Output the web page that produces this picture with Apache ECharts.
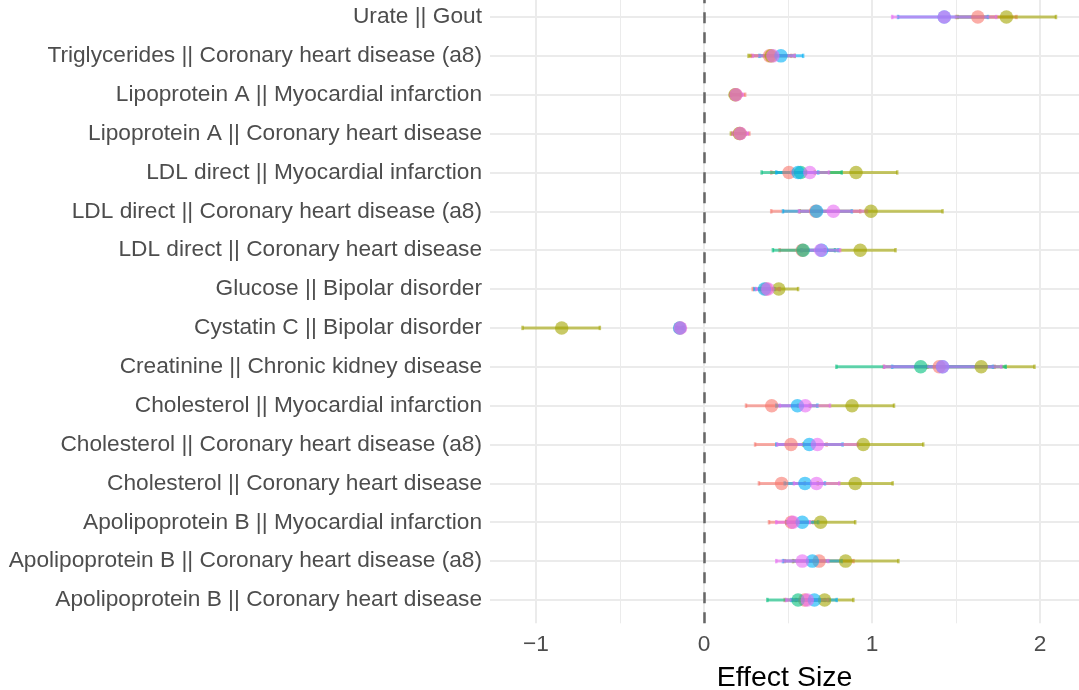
<!DOCTYPE html>
<html>
<head>
<meta charset="utf-8">
<script src="https://cdn.jsdelivr.net/npm/echarts@6/dist/echarts.min.js"></script>
<style>
html,body{margin:0;padding:0;background:#fff;}
#chart{width:1079px;height:690px;}
</style>
</head>
<body>
<div id="chart"></div>
<script>
// Categories, bottom (index 0) to top
var categories = [
  "Apolipoprotein B || Coronary heart disease",
  "Apolipoprotein B || Coronary heart disease (a8)",
  "Apolipoprotein B || Myocardial infarction",
  "Cholesterol || Coronary heart disease",
  "Cholesterol || Coronary heart disease (a8)",
  "Cholesterol || Myocardial infarction",
  "Creatinine || Chronic kidney disease",
  "Cystatin C || Bipolar disorder",
  "Glucose || Bipolar disorder",
  "LDL direct || Coronary heart disease",
  "LDL direct || Coronary heart disease (a8)",
  "LDL direct || Myocardial infarction",
  "Lipoprotein A || Coronary heart disease",
  "Lipoprotein A || Myocardial infarction",
  "Triglycerides || Coronary heart disease (a8)",
  "Urate || Gout"
];
var xTickValues = [-1, 0, 1, 2];
var xMinorValues = [-0.5, 0.5, 1.5];
var seriesNames = ["Series 1", "Series 2", "Series 3", "Series 4", "Series 5"];
var seriesColors = ["#F8766D", "#A3A500", "#00BF7D", "#00B0F6", "#E76BF3"];

// Series 1 (red)
var s1Est = [0.60, 0.685, 0.52, 0.462, 0.518, 0.403, 1.40, -0.143, 0.37, 0.585, 0.665, 0.506, 0.215, 0.19, 0.39, 1.63];
var s1Lo  = [0.48, 0.48, 0.387, 0.327, 0.304, 0.25, 1.07, -0.16, 0.29, 0.45, 0.40, 0.40, 0.17, 0.16, 0.28, 1.50];
var s1Hi  = [0.72, 0.89, 0.65, 0.60, 0.73, 0.56, 1.73, -0.125, 0.45, 0.72, 0.93, 0.61, 0.27, 0.245, 0.52, 1.86];
// Series 2 (olive)
var s2Est = [0.718, 0.843, 0.694, 0.90, 0.948, 0.881, 1.65, -0.847, 0.445, 0.93, 0.994, 0.905, 0.21, 0.185, 0.40, 1.80];
var s2Lo  = [0.547, 0.53, 0.49, 0.677, 0.59, 0.63, 1.33, -1.08, 0.33, 0.72, 0.57, 0.66, 0.16, 0.155, 0.265, 1.51];
var s2Hi  = [0.889, 1.157, 0.90, 1.123, 1.305, 1.131, 1.967, -0.62, 0.56, 1.14, 1.42, 1.15, 0.25, 0.22, 0.54, 2.095];
// Series 3 (green)
var s3Est = [0.56, null, null, null, null, null, 1.29, null, null, 0.59, null, 0.575, null, null, null, null];
var s3Lo  = [0.377, null, null, null, null, null, 0.788, null, null, 0.41, null, 0.343, null, null, null, null];
var s3Hi  = [0.742, null, null, null, null, null, 1.796, null, null, 0.78, null, 0.82, null, null, null, null];
// Series 4 (blue)
var s4Est = [0.657, 0.645, 0.585, 0.601, 0.627, 0.556, 1.42, -0.145, 0.36, 0.70, 0.67, 0.56, null, null, 0.458, 1.43];
var s4Lo  = [0.52, 0.47, 0.49, 0.48, 0.43, 0.43, 1.12, -0.165, 0.30, 0.58, 0.47, 0.43, null, null, 0.33, 1.155];
var s4Hi  = [0.79, 0.82, 0.68, 0.72, 0.825, 0.675, 1.72, -0.125, 0.42, 0.80, 0.88, 0.68, null, null, 0.59, 1.69];
// Series 5 (purple)
var s5Est = [0.615, 0.585, 0.53, 0.67, 0.675, 0.603, 1.42, -0.14, 0.38, 0.695, 0.77, 0.63, 0.215, 0.19, 0.41, 1.43];
var s5Lo  = [0.49, 0.43, 0.43, 0.535, 0.435, 0.45, 1.073, -0.16, 0.31, 0.58, 0.565, 0.52, 0.17, 0.16, 0.29, 1.12];
var s5Hi  = [0.74, 0.74, 0.63, 0.805, 0.915, 0.75, 1.77, -0.12, 0.45, 0.81, 0.97, 0.744, 0.26, 0.23, 0.54, 1.74];

var estArr = [s1Est, s2Est, s3Est, s4Est, s5Est];
var loArr = [s1Lo, s2Lo, s3Lo, s4Lo, s5Lo];
var hiArr = [s1Hi, s2Hi, s3Hi, s4Hi, s5Hi];

var FONT = "'Liberation Sans', Arial, Helvetica, sans-serif";
var ALPHA = 0.6;

var series = [];
// error bars first
for (var k = 0; k < 5; k++) {
  var ebData = [];
  for (var i = 0; i < categories.length; i++) {
    if (loArr[k][i] != null) ebData.push([loArr[k][i], hiArr[k][i], i]);
  }
  (function(col){
    series.push({
      type: 'custom',
      name: seriesNames[k],
      xAxisIndex: 0, yAxisIndex: 0,
      encode: {x: [0, 1], y: 2},
      silent: true,
      z: 3,
      renderItem: function(params, api) {
        var p1 = api.coord([api.value(0), api.value(2)]);
        var p2 = api.coord([api.value(1), api.value(2)]);
        var h = 2.2;
        var st = {stroke: col, lineWidth: 3, opacity: ALPHA};
        var cst = {stroke: col, lineWidth: 2.5, opacity: ALPHA};
        return {
          type: 'group',
          children: [
            {type: 'line', shape: {x1: p1[0], y1: p1[1], x2: p2[0], y2: p2[1]}, style: st},
            {type: 'line', shape: {x1: p1[0], y1: p1[1] - h, x2: p1[0], y2: p1[1] + h}, style: cst},
            {type: 'line', shape: {x1: p2[0], y1: p2[1] - h, x2: p2[0], y2: p2[1] + h}, style: cst}
          ]
        };
      },
      data: ebData
    });
  })(seriesColors[k]);
}
// points
for (var k2 = 0; k2 < 5; k2++) {
  var pData = [];
  for (var j = 0; j < categories.length; j++) {
    if (estArr[k2][j] != null) pData.push([estArr[k2][j], j]);
  }
  var s = {
    type: 'scatter',
    name: seriesNames[k2],
    xAxisIndex: 0, yAxisIndex: 0,
    symbol: 'circle',
    symbolSize: 13.5,
    z: 4,
    silent: true,
    itemStyle: {color: seriesColors[k2], opacity: ALPHA},
    data: pData
  };
  if (k2 === 0) {
    s.markLine = {
      silent: true,
      symbol: 'none',
      label: {show: false},
      z: 2,
      lineStyle: {type: [11, 9], color: '#666666', width: 2.5, opacity: 1},
      data: [{xAxis: 0}]
    };
  }
  series.push(s);
}

var chart = echarts.init(document.getElementById('chart'), null, {renderer: 'canvas'});
chart.setOption({
  animation: false,
  backgroundColor: '#ffffff',
  grid: {left: 490, right: 0, top: 0, bottom: 66.7, containLabel: false, outerBoundsMode: 'none'},
  xAxis: [{
    type: 'value',
    min: -1.2738, max: 2.2321,
    position: 'bottom',
    name: 'Effect Size',
    nameLocation: 'middle',
    nameGap: 40,
    nameTextStyle: {fontFamily: FONT, fontSize: 28.5, color: '#000000'},
    axisLine: {show: false},
    axisTick: {show: false, customValues: xTickValues},
    axisLabel: {
      customValues: xTickValues,
      fontFamily: FONT, fontSize: 22.7, color: '#4D4D4D', margin: 10,
      formatter: function(v){ return v < 0 ? '\u2212' + Math.abs(v) : String(v); }
    },
    splitLine: {show: true, lineStyle: {color: '#EBEBEB', width: 2}}
  }, {
    type: 'value',
    min: -1.2738, max: 2.2321,
    position: 'top',
    axisLine: {show: false},
    axisTick: {show: false, customValues: xMinorValues},
    axisLabel: {show: false, customValues: xMinorValues},
    splitLine: {show: true, lineStyle: {color: '#EBEBEB', width: 1}}
  }],
  yAxis: {
    type: 'value',
    min: -0.6, max: 15.4374,
    axisLine: {show: false},
    axisTick: {show: false, customValues: categories.map(function(c, i){ return i; })},
    axisLabel: {
      customValues: categories.map(function(c, i){ return i; }),
      fontFamily: FONT, fontSize: 22.7, color: '#4D4D4D', margin: 8,
      formatter: function(v){ return categories[Math.round(v)]; }
    },
    splitLine: {show: true, lineStyle: {color: '#EBEBEB', width: 2}}
  },
  series: series
});
</script>
</body>
</html>
